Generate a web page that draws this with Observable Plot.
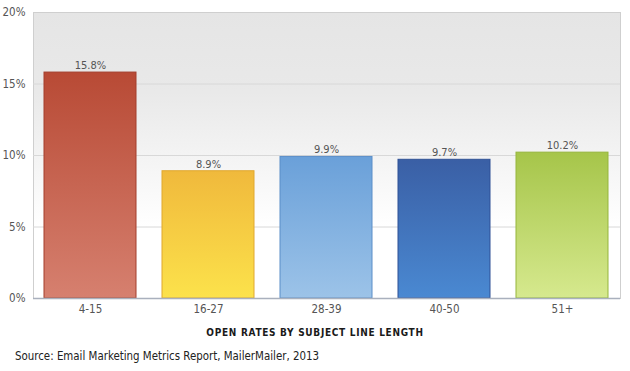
<!DOCTYPE html>
<html>
<head>
<meta charset="utf-8">
<script src="https://cdn.jsdelivr.net/npm/d3@7"></script>
<script src="https://cdn.jsdelivr.net/npm/@observablehq/plot@0.6"></script>
<style>
  html, body { margin: 0; padding: 0; background: #fff; }
  #chart { width: 630px; }
  .title { text-align: center; font-family: "DejaVu Sans Condensed", "DejaVu Sans", sans-serif; font-stretch: condensed; font-weight: bold; font-size: 10px; letter-spacing: 0.7px; color: #1a1a1a; margin-top: 7px; height: 16px; line-height: 16px; }
  .source { font-family: "DejaVu Sans Condensed", "DejaVu Sans", sans-serif; font-stretch: condensed; font-size: 11.4px; color: #222; margin: 7px 0 0 15px; line-height: 16px; }
</style>
</head>
<body>
<div id="chart"></div>
<script>
const categories = ["4-15", "16-27", "28-39", "40-50", "51+"];
const values = [15.8, 8.9, 9.9, 9.7, 10.2];
const valueLabels = ["15.8%", "8.9%", "9.9%", "9.7%", "10.2%"];
const yTicks = [0, 5, 10, 15, 20];
const gridTicks = [5, 10, 15];
const gradTop = ["#b84a35", "#f0b93c", "#6aa0d9", "#3a5fa5", "#a6c54a"];
const gradBottom = ["#d6806f", "#fce24b", "#9cc3e8", "#4a89d2", "#d6e98e"];
const strokes = ["#a33f2d", "#e0a82f", "#5a8ec8", "#2f5196", "#95b53c"];
const titleText = "OPEN RATES BY SUBJECT LINE LENGTH";
const sourceText = "Source: Email Marketing Metrics Report, MailerMailer, 2013";

const data = categories.map((c, i) => ({cat: c, value: values[i], label: valueLabels[i]}));

const font = '"DejaVu Sans Condensed", "DejaVu Sans", sans-serif';

const plot = Plot.plot({
  width: 630,
  height: 318,
  marginTop: 12,
  marginBottom: 20,
  marginLeft: 33,
  marginRight: 10,
  style: {fontFamily: font, fontSize: "11.5px", color: "#555", background: "#fff", fontStretch: "condensed"},
  x: {domain: categories, paddingInner: 0.22, paddingOuter: 0.08, label: null, tickSize: 0, tickPadding: 6},
  y: {domain: [0, 20], ticks: yTicks, tickFormat: d => d + "%", label: null, tickSize: 0, tickPadding: 8},
  color: {domain: categories, range: categories.map((c, i) => `url(#grad${i})`)},
  marks: [
    Plot.frame({fill: "url(#bggrad)", stroke: "#cfcfcf"}),
    Plot.ruleY(gridTicks, {stroke: "#d8d8d8", strokeWidth: 1}),
    Plot.barY(data, {x: "cat", y: "value", fill: "cat", stroke: "cat", strokeWidth: 1}),
    Plot.text(data, {x: "cat", y: "value", text: "label", dy: -7, fill: "#555", fontSize: 11}),
    Plot.ruleY([0], {stroke: "#a9b0bd", strokeWidth: 1.5})
  ]
});

const svg = d3.select(plot);
const defs = svg.insert("defs", ":first-child");
const bg = defs.append("linearGradient").attr("id", "bggrad").attr("x1", 0).attr("y1", 0).attr("x2", 0).attr("y2", 1);
bg.append("stop").attr("offset", "0%").attr("stop-color", "#e5e5e5");
bg.append("stop").attr("offset", "28%").attr("stop-color", "#e9e9e9");
bg.append("stop").attr("offset", "75%").attr("stop-color", "#ffffff");
bg.append("stop").attr("offset", "100%").attr("stop-color", "#ffffff");
categories.forEach((c, i) => {
  const g = defs.append("linearGradient").attr("id", `grad${i}`).attr("x1", 0).attr("y1", 0).attr("x2", 0).attr("y2", 1);
  g.append("stop").attr("offset", "0%").attr("stop-color", gradTop[i]);
  g.append("stop").attr("offset", "100%").attr("stop-color", gradBottom[i]);
});
// darker borders per bar
svg.selectAll("g[aria-label='bar'] rect").attr("stroke", (d, i) => strokes[i]);

document.getElementById("chart").appendChild(plot);
const t = document.createElement("div"); t.className = "title"; t.textContent = titleText;
const s = document.createElement("div"); s.className = "source"; s.textContent = sourceText;
document.getElementById("chart").appendChild(t);
document.getElementById("chart").appendChild(s);
</script>
</body>
</html>
